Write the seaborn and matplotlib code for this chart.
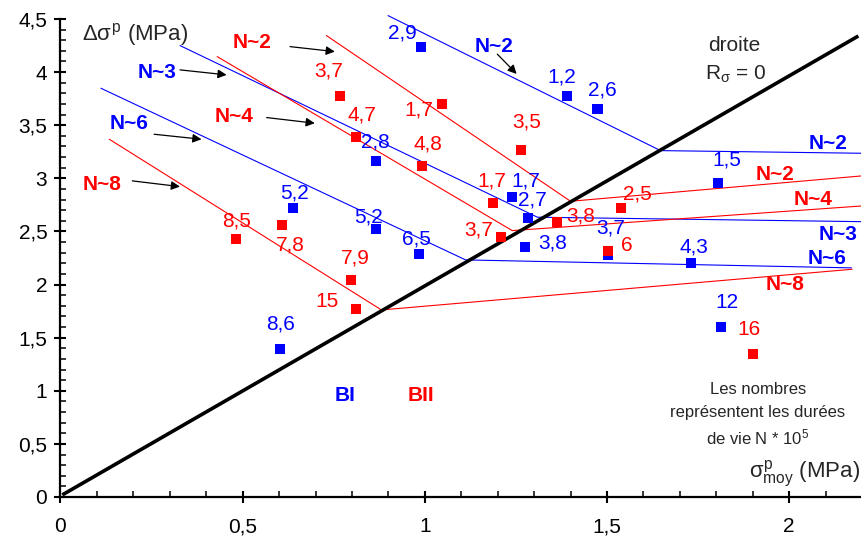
import numpy as np
import pandas as pd
import matplotlib.pyplot as plt
from matplotlib.ticker import FuncFormatter, MultipleLocator
import seaborn as sns

# ── Données ───────────────────────────────────────────────────────────────────

# points BI (bleu) : contrainte moyenne, amplitude, durée de vie N * 10^5
blue_x = [0.989, 1.389, 1.474, 0.865, 0.637, 0.865, 0.984, 1.239,
          1.284, 1.275, 1.504, 1.805, 1.731, 1.812, 0.603]
blue_y = [4.240, 3.779, 3.653, 3.167, 2.721, 2.526, 2.288, 2.822,
          2.627, 2.354, 2.279, 2.954, 2.203, 1.598, 1.391]
blue_N = ["2,9", "1,2", "2,6", "2,8", "5,2", "5,2", "6,5", "1,7",
          "2,7", "3,8", "3,7", "1,5", "4,3", "12", "8,6"]

# points BII (rouge)
red_x = [0.768, 1.048, 0.811, 0.993, 1.263, 1.188, 1.364, 1.539,
         1.209, 1.504, 0.482, 0.608, 0.797, 0.812, 1.900]
red_y = [3.779, 3.701, 3.387, 3.117, 3.270, 2.766, 2.589, 2.721,
         2.448, 2.319, 2.432, 2.558, 2.043, 1.770, 1.344]
red_N = ["3,7", "1,7", "4,7", "4,8", "3,5", "1,7", "3,8", "2,5",
         "3,7", "6", "8,5", "7,8", "7,9", "15", "16"]

# droites iso-durée (polylignes)
blue_iso = {
    "N~2": ([0.899, 1.647, 2.200], [4.532, 3.261, 3.236]),
    "N~3": ([0.328, 1.309, 2.200], [4.250, 2.634, 2.592]),
    "N~6": ([0.111, 1.112, 2.171], [3.848, 2.232, 2.157]),
}
red_iso = {
    "N~2": ([0.730, 1.400, 2.200], [4.344, 2.784, 3.023]),
    "N~4": ([0.430, 1.240, 2.200], [4.146, 2.508, 2.740]),
    "N~8": ([0.134, 0.881, 2.173], [3.368, 1.761, 2.144]),
}

# droite R_sigma = 0
r0_x = [0.005, 2.190]
r0_y = [0.020, 4.340]

# décalages des étiquettes (pixels)
blue_offsets = [(-18, 14), (-5, 19), (5, 19), (0, 19), (2, 15), (-7, 12), (-3, 15), (14, 16),
                (4, 18), (28, 4), (2, 27), (9, 23), (3, 16), (6, 25), (0, 25)]
red_offsets = [(-12, 25), (-23, -6), (6, 22), (6, 22), (6, 28), (-1, 22), (23, 6), (16, 14),
               (-22, 7), (18, 5), (0, 18), (8, -20), (4, 22), (-29, 7), (-4, 25)]

BLUE = "#0000ff"
RED = "#ff0000"
FS = 15

sns.set_theme(style="white")
plt.rcParams["font.family"] = ["Liberation Sans", "DejaVu Sans"]
plt.rcParams["mathtext.fontset"] = "custom"
plt.rcParams["mathtext.rm"] = "Liberation Sans"
plt.rcParams["mathtext.it"] = "Liberation Sans"
plt.rcParams["mathtext.bf"] = "Liberation Sans:bold"

fig = plt.figure(figsize=(8.62, 5.38), dpi=100)
ax = fig.add_axes([60.5 / 862, 41 / 538, (862 - 60.5) / 862, 478 / 538])

# droites
ax.plot(r0_x, r0_y, color="black", lw=2.6, solid_capstyle="butt", zorder=3)
for xs, ys in blue_iso.values():
    ax.plot(xs, ys, color=BLUE, lw=0.8, clip_on=False, zorder=2)
for xs, ys in red_iso.values():
    ax.plot(xs, ys, color=RED, lw=0.8, clip_on=False, zorder=2)

# points
df = pd.DataFrame({
    "x": blue_x + red_x,
    "y": blue_y + red_y,
    "bloc": ["BI"] * len(blue_x) + ["BII"] * len(red_x),
})
sns.scatterplot(data=df, x="x", y="y", hue="bloc", palette={"BI": BLUE, "BII": RED},
                marker="s", s=52, linewidth=0, legend=False, ax=ax, zorder=4)

# étiquettes des durées de vie
for xs, ys, labels, offs, col in [(blue_x, blue_y, blue_N, blue_offsets, BLUE),
                                  (red_x, red_y, red_N, red_offsets, RED)]:
    for x, y, lab, (dx, dy) in zip(xs, ys, labels, offs):
        ax.annotate(lab, (x, y), xytext=(dx * 0.72, dy * 0.72), textcoords="offset points",
                    ha="center", va="center", color=col, fontsize=FS, zorder=5)

# libellés N~ à gauche avec flèches
left_labels = [
    ("N~2", RED, (0.527, 4.275), (0.630, 4.240), (0.753, 4.193)),
    ("N~3", BLUE, (0.266, 3.995), (0.328, 4.021), (0.456, 3.974)),
    ("N~4", RED, (0.476, 3.581), (0.566, 3.572), (0.698, 3.519)),
    ("N~6", BLUE, (0.188, 3.512), (0.257, 3.415), (0.387, 3.368)),
    ("N~8", RED, (0.115, 2.944), (0.197, 2.976), (0.328, 2.922)),
    ("N~2", BLUE, (1.189, 4.240), (1.199, 4.169), (1.252, 3.983)),
]
for txt, col, pos, tail, head in left_labels:
    ax.text(*pos, txt, color=col, fontsize=FS, fontweight="bold", ha="center", va="center")
    ax.annotate("", xy=head, xytext=tail,
                arrowprops=dict(arrowstyle="-|>", color="black", lw=0.9,
                                mutation_scale=13, shrinkA=0, shrinkB=0))

# libellés N~ à droite
right_labels = [
    ("N~2", BLUE, (2.106, 3.331)),
    ("N~2", RED, (1.960, 3.032)),
    ("N~4", RED, (2.066, 2.797)),
    ("N~3", BLUE, (2.133, 2.467)),
    ("N~6", BLUE, (2.103, 2.250)),
    ("N~8", RED, (1.990, 1.996)),
]
for txt, col, pos in right_labels:
    ax.text(*pos, txt, color=col, fontsize=FS, fontweight="bold", ha="center", va="center")

ax.text(1.850, 4.250, "droite", fontsize=FS, ha="center", va="center")
ax.text(1.853, 3.983, r"R$_{\sigma}$ = 0", fontsize=FS, ha="center", va="center")
ax.text(0.780, 0.960, "BI", color=BLUE, fontsize=FS, fontweight="bold", ha="center", va="center")
ax.text(0.990, 0.960, "BII", color=RED, fontsize=FS, fontweight="bold", ha="center", va="center")

ax.text(1.914, 1.008, "Les nombres", fontsize=12, ha="center", va="center")
ax.text(1.914, 0.791, "représentent les durées", fontsize=12, ha="center", va="center")
ax.text(1.914, 0.565, r"de vie N * 10$^{5}$", fontsize=12, ha="center", va="center")

ax.text(0.059, 4.350, r"$\Delta\sigma^{p}$ (MPa)", fontsize=16, ha="left", va="center")
ax.text(2.196, 0.217, r"$\sigma^{p}_{moy}$ (MPa)", fontsize=16, ha="right", va="center")

# axes
ax.set_xlim(0, 2.2)
ax.set_ylim(0, 4.5)
ax.set_xlabel("")
ax.set_ylabel("")
ax.xaxis.set_major_locator(MultipleLocator(0.5))
ax.xaxis.set_minor_locator(MultipleLocator(0.1))
ax.yaxis.set_major_locator(MultipleLocator(0.5))
ax.yaxis.set_minor_locator(MultipleLocator(0.1))
fmt = FuncFormatter(lambda v, _: f"{v:g}".replace(".", ","))
ax.xaxis.set_major_formatter(fmt)
ax.yaxis.set_major_formatter(fmt)
ax.tick_params(which="major", direction="inout", length=9, width=1.5, labelsize=FS,
               colors="black")
ax.tick_params(axis="x", which="major", pad=10)
ax.tick_params(axis="y", which="major", pad=5)
ax.tick_params(which="minor", direction="in", length=4.5, width=1.3)
ax.tick_params(bottom=True, left=True, which="both")
for side in ["top", "right"]:
    ax.spines[side].set_visible(False)
for side in ["left", "bottom"]:
    ax.spines[side].set_linewidth(1.6)
    ax.spines[side].set_color("black")
ax.set_facecolor("white")

fig.savefig("out.png", dpi=100)
